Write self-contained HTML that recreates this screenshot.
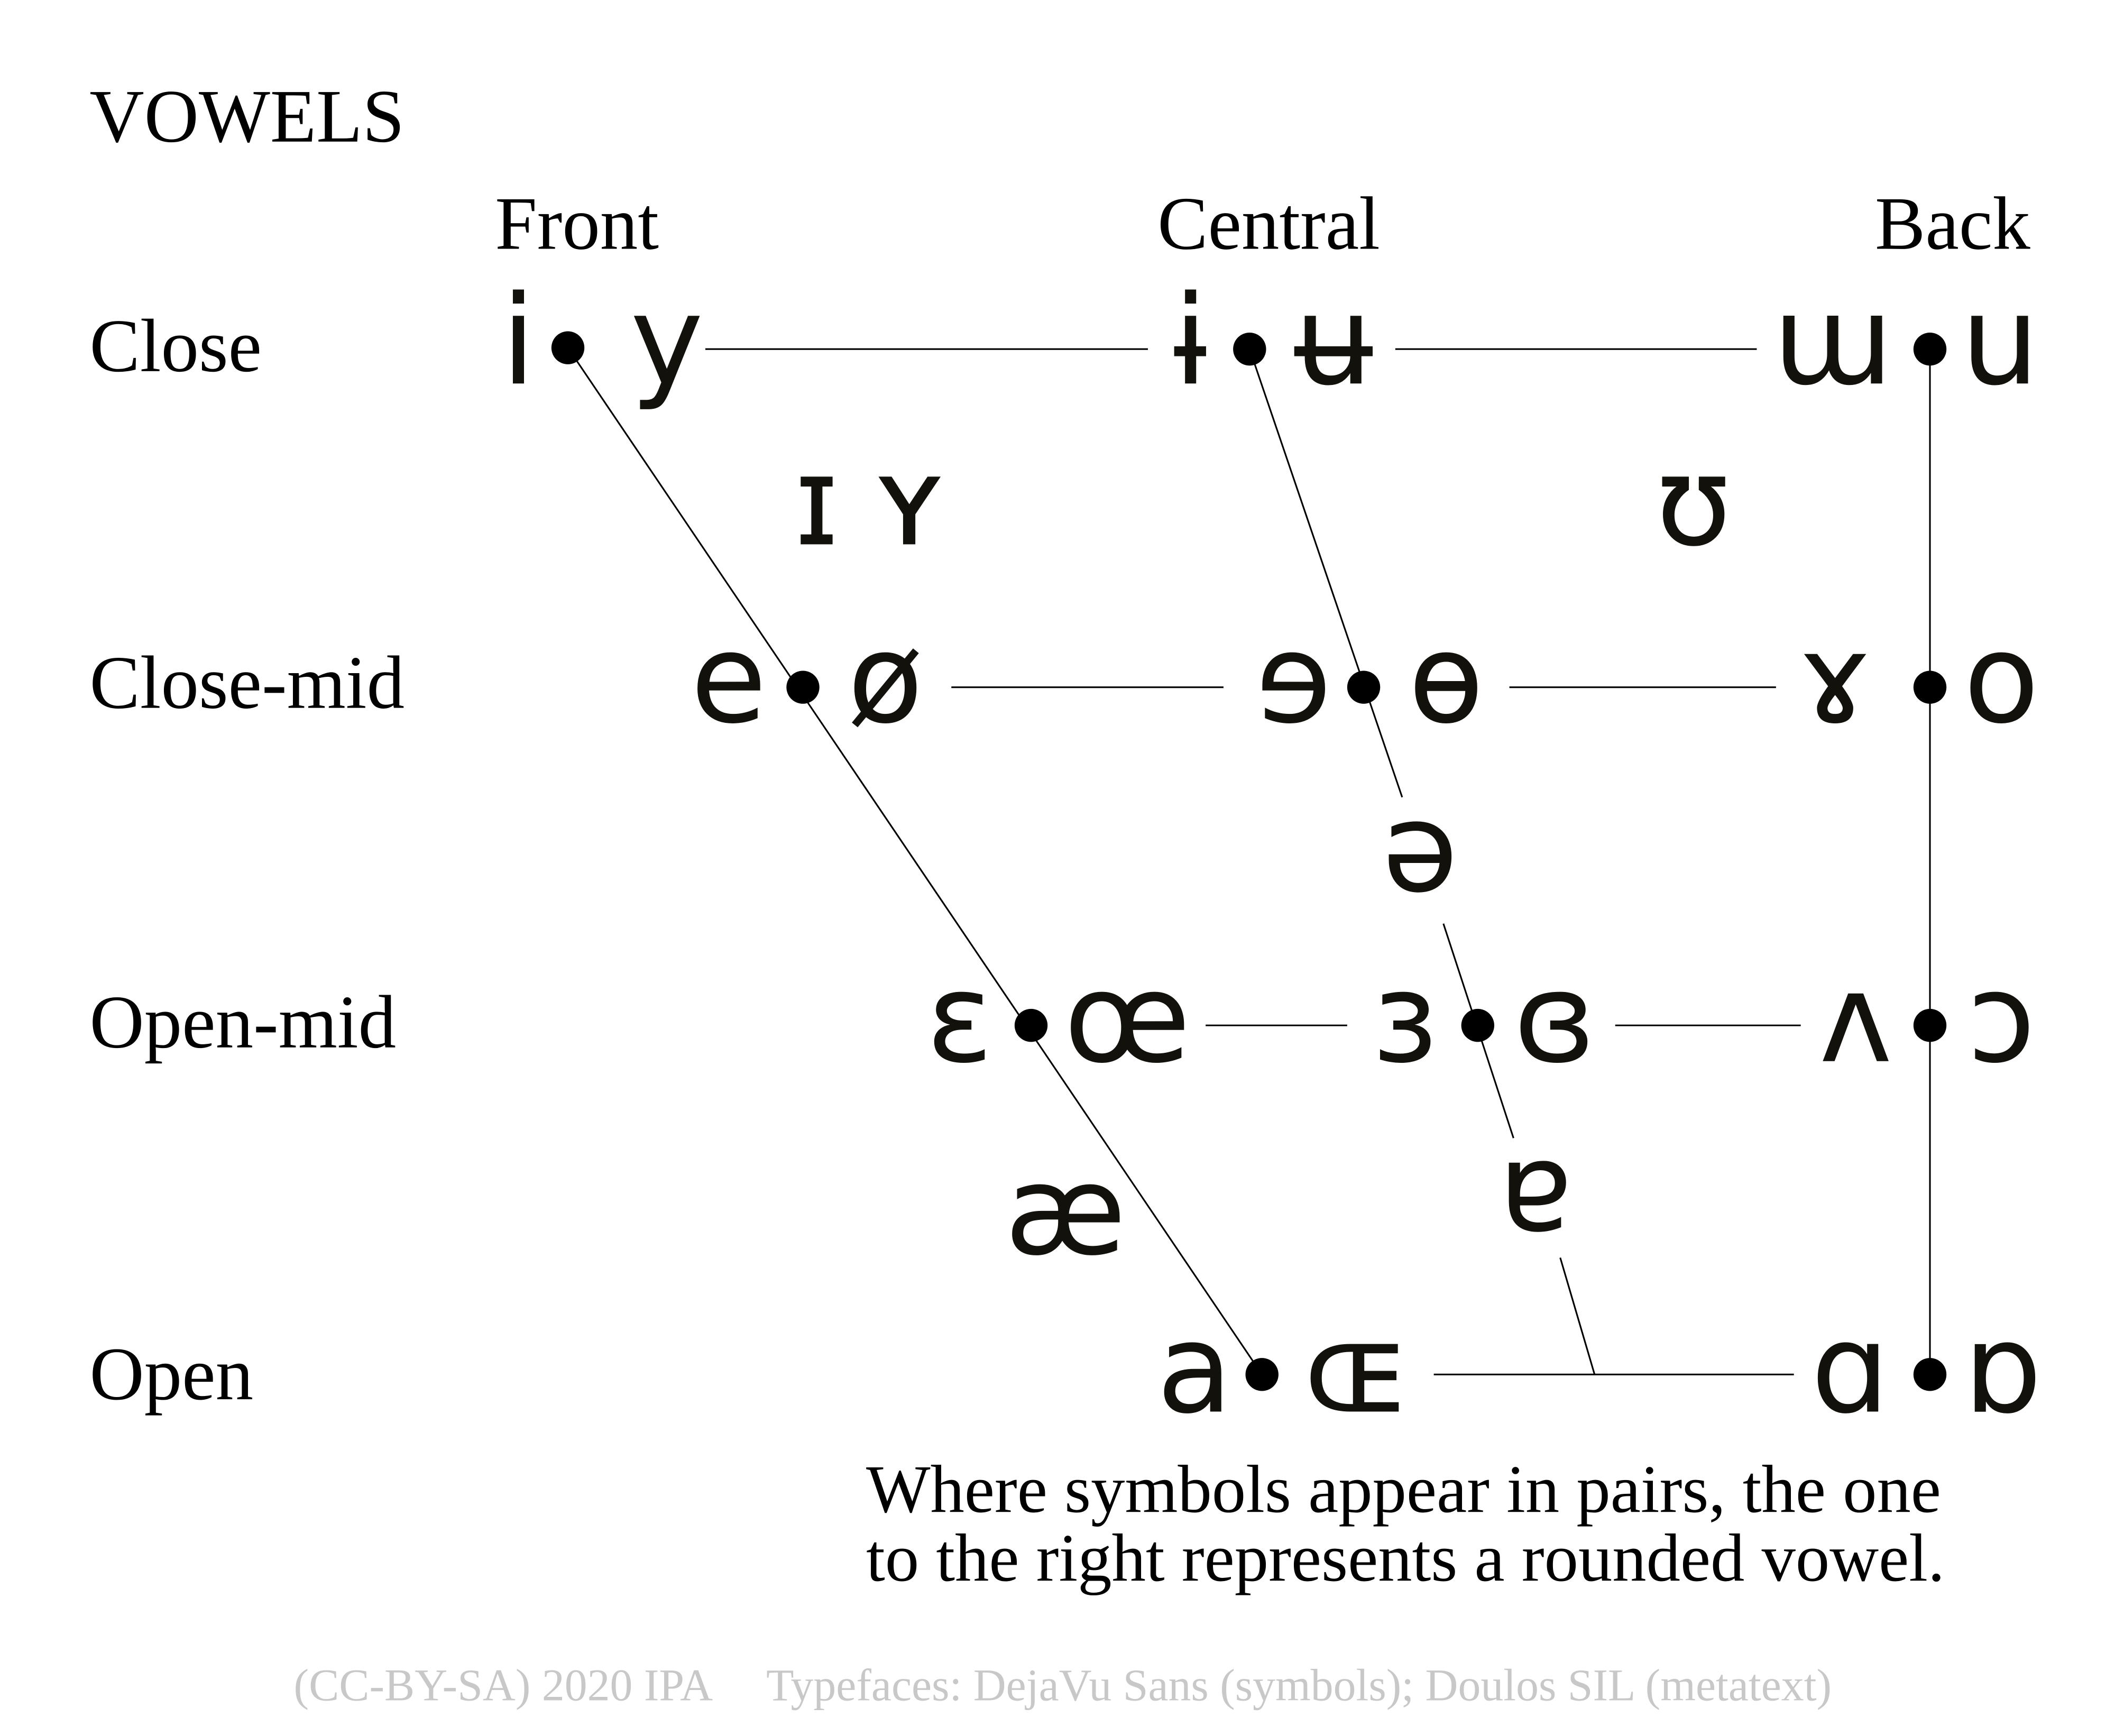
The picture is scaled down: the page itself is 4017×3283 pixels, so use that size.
<!DOCTYPE html>
<html><head><meta charset="utf-8"><style>
html,body{margin:0;padding:0;background:#fff;}
svg{display:block;}
.s{font-family:"DejaVu Sans",sans-serif;font-size:90px;fill:#12110c;text-anchor:middle;}
.m{font-family:"Liberation Serif",serif;font-size:55px;fill:#000;}
.n{font-family:"Liberation Serif",serif;font-size:49.5px;fill:#000;}
</style></head><body>
<svg width="4017" height="3283" viewBox="0 0 1545 1263" xmlns="http://www.w3.org/2000/svg">
<rect width="1545" height="1263" fill="#fff"/>
<text class="m" x="65" y="103">VOWELS</text>
<text class="m" x="360" y="181">Front</text>
<text class="m" x="842" y="181">Central</text>
<text class="m" x="1477" y="181" text-anchor="end">Back</text>
<text class="m" x="65" y="270">Close</text>
<text class="m" x="65" y="515">Close-mid</text>
<text class="m" x="65" y="762">Open-mid</text>
<text class="m" x="65" y="1018">Open</text>
<g stroke="#000" stroke-width="1.2" fill="none">
<line x1="413" y1="253" x2="918" y2="1000"/>
<line x1="909" y1="254" x2="1020" y2="580"/>
<line x1="1050" y1="672" x2="1101" y2="828"/>
<line x1="1135" y1="915" x2="1160" y2="1000"/>
<line x1="1404" y1="254" x2="1404" y2="1000"/>
<line x1="513" y1="254" x2="835" y2="254"/>
<line x1="1015" y1="254" x2="1278" y2="254"/>
<line x1="692" y1="500" x2="890" y2="500"/>
<line x1="1098" y1="500" x2="1292" y2="500"/>
<line x1="877" y1="746" x2="980" y2="746"/>
<line x1="1175" y1="746" x2="1310" y2="746"/>
<line x1="1043" y1="1000" x2="1305" y2="1000"/>
</g>
<g fill="#000">
<circle cx="413" cy="253" r="12"/><circle cx="909" cy="254" r="12"/><circle cx="1404" cy="254" r="12"/>
<circle cx="584" cy="500" r="12"/><circle cx="992" cy="500" r="12"/><circle cx="1404" cy="500" r="12"/>
<circle cx="750" cy="746" r="12"/><circle cx="1075" cy="746" r="12"/><circle cx="1404" cy="746" r="12"/>
<circle cx="918" cy="1000" r="12"/><circle cx="1404" cy="1000" r="12"/>
</g>
<text class="s" x="377" y="279">i</text><text class="s" x="485" y="279">y</text>
<text class="s" x="866" y="279">ɨ</text><text class="s" x="970" y="279">ʉ</text>
<text class="s" x="1333" y="279">ɯ</text><text class="s" x="1455" y="279">u</text>
<text class="s" x="594" y="396">ɪ</text><text class="s" x="662" y="396">ʏ</text>
<text class="s" x="1232" y="396">ʊ</text>
<text class="s" x="530" y="525">e</text><text class="s" x="644" y="525">ø</text>
<text class="s" x="941" y="525">ɘ</text><text class="s" x="1052" y="525">ɵ</text>
<text class="s" x="1335" y="525">ɤ</text><text class="s" x="1456" y="525">o</text>
<text class="s" x="1033" y="648">ə</text>
<text class="s" x="698" y="772">ɛ</text><text class="s" x="820" y="772">œ</text>
<text class="s" x="1022" y="772">ɜ</text><text class="s" x="1131" y="772">ɞ</text>
<text class="s" x="1350" y="772">ʌ</text><text class="s" x="1456" y="772">ɔ</text>
<text class="s" x="775" y="912">æ</text><text class="s" x="1117" y="895">ɐ</text>
<text class="s" x="869" y="1027">a</text><text class="s" x="987" y="1027">ɶ</text>
<text class="s" x="1346" y="1027">ɑ</text><text class="s" x="1457" y="1027">ɒ</text>
<text class="n" x="630" y="1100">Where symbols appear in pairs, the one</text>
<text class="n" x="630" y="1150">to the right represents a rounded vowel.</text>
<text x="773" y="1237" text-anchor="middle" font-family="Liberation Serif,serif" font-size="33" fill="#c8c8c8" xml:space="preserve">(CC-BY-SA) 2020 IPA     Typefaces: DejaVu Sans (symbols); Doulos SIL (metatext)</text>
</svg>
</body></html>
